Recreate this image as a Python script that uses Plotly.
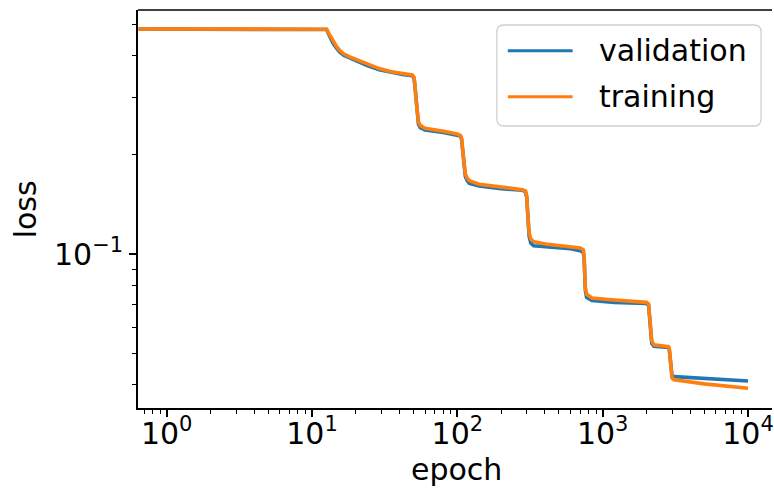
import plotly.graph_objects as go
import numpy as np

# ---- data ----
epochs = [0.64, 12.0, 12.6, 13.0, 13.5, 14.0, 14.7, 15.5, 16.5, 18.0, 20.0, 24.0, 29.0, 35.0, 42.0,
          49.0, 50.3, 51.0, 52.0, 53.0, 54.0, 55.5, 60.0, 80.0,
          100.0, 105.0, 107.0, 109.0, 111.0, 113.5, 117.0, 121.0, 141.0, 200.0,
          280.0, 294.0, 300.0, 306.0, 312.0, 320.0, 335.0, 404.0, 600.0,
          700.0, 735.0, 745.0, 752.0, 760.0, 775.0, 843.0, 1200.0,
          2000.0, 2070.0, 2100.0, 2130.0, 2175.0, 2250.0, 2832.0,
          2870.0, 2900.0, 2950.0, 3000.0, 3100.0, 5000.0, 10000.0]
val_loss = [0.483, 0.483, 0.481, 0.466, 0.450, 0.436, 0.423, 0.411, 0.402, 0.395, 0.388, 0.374, 0.363, 0.356, 0.351,
            0.348, 0.342, 0.326, 0.290, 0.260, 0.248, 0.242, 0.238, 0.234,
            0.2305, 0.2285, 0.223, 0.203, 0.184, 0.172, 0.167, 0.164, 0.161, 0.158,
            0.1562, 0.1548, 0.149, 0.128, 0.113, 0.108, 0.106, 0.1053, 0.1038,
            0.1024, 0.1012, 0.0975, 0.0865, 0.0775, 0.0738, 0.0722, 0.0713,
            0.0707, 0.0698, 0.0652, 0.0572, 0.0535, 0.0524, 0.0520,
            0.0514, 0.0485, 0.0445, 0.0426, 0.0424, 0.0418, 0.0411]
train_loss = [0.483, 0.483, 0.482, 0.470, 0.455, 0.441, 0.428, 0.416, 0.406, 0.398, 0.391, 0.377, 0.366, 0.358, 0.353,
              0.350, 0.345, 0.330, 0.295, 0.265, 0.252, 0.246, 0.241, 0.236,
              0.2315, 0.229, 0.224, 0.205, 0.187, 0.175, 0.170, 0.167, 0.163, 0.160,
              0.1568, 0.1555, 0.150, 0.130, 0.116, 0.111, 0.109, 0.1073, 0.1055,
              0.1043, 0.1030, 0.099, 0.088, 0.079, 0.0755, 0.0735, 0.0725,
              0.0713, 0.0705, 0.066, 0.058, 0.0545, 0.0530, 0.0523,
              0.0518, 0.0490, 0.0448, 0.0420, 0.0415, 0.0403, 0.0391]
x_tickvals = [1, 10, 100, 1000, 10000]
x_ticktext = ["10<sup>0</sup>", "10<sup>1</sup>", "10<sup>2</sup>", "10<sup>3</sup>", "10<sup>4</sup>"]
y_tickvals = [0.1]
y_ticktext = ["10<sup>\u22121</sup>"]
series_names = ["validation", "training"]
colors = ["#1f77b4", "#ff7f0e"]

# ---- layout geometry (pixels) ----
W, H = 774, 492
L, R, T, B = 138, 774, 10, 408
FONT = "DejaVu Sans"
FS = 30


def px(x):
    return (x - L) / (R - L)


def py(y):
    return (B - y) / (B - T)


x_minor = [m * 10 ** d for d in range(-1, 5) for m in range(2, 10)]
y_minor = [m * 10 ** d for d in (-2, -1) for m in range(2, 10)]

fig = go.Figure()
for name, ys, c in zip(series_names, [val_loss, train_loss], colors):
    fig.add_trace(go.Scatter(x=epochs, y=ys, mode="lines", name=name,
                             line=dict(color=c, width=3.6), showlegend=False))

axis_common = dict(showline=True, linecolor="black", linewidth=1.6,
                   ticks="outside", ticklen=7, tickwidth=1.6, tickcolor="black",
                   showgrid=False, zeroline=False, ticklabeloverflow="allow",
                   tickfont=dict(family=FONT, size=FS, color="black"))

fig.update_layout(
    width=W, height=H,
    margin=dict(l=L, r=W - R, t=T, b=H - B),
    paper_bgcolor="white", plot_bgcolor="white",
    xaxis=dict(type="log", range=[np.log10(0.635), 4.165],
               tickmode="array", tickvals=x_tickvals, ticktext=x_ticktext,
               ticklabelstandoff=-9,
               minor=dict(tickmode="array", tickvals=x_minor, ticks="outside",
                          ticklen=4, tickwidth=1.2, tickcolor="black"),
               **axis_common),
    yaxis=dict(type="log", range=[-1.468, -0.2584],
               tickmode="array", tickvals=y_tickvals, ticktext=y_ticktext,
               minor=dict(tickmode="array", tickvals=y_minor, ticks="outside",
                          ticklen=4, tickwidth=1.2, tickcolor="black"),
               **axis_common),
)

# top spine
fig.add_shape(type="line", xref="paper", yref="paper", x0=0, x1=1, y0=1, y1=1,
              line=dict(color="black", width=1.6))

# axis titles
fig.add_annotation(text="epoch", xref="paper", yref="paper", x=px(458), y=py(470),
                   showarrow=False, xanchor="center", yanchor="middle",
                   font=dict(family=FONT, size=FS, color="black"))
fig.add_annotation(text="loss", xref="paper", yref="paper", x=px(25), y=py(209),
                   showarrow=False, xanchor="center", yanchor="middle", textangle=-90,
                   font=dict(family=FONT, size=FS, color="black"))

# legend (matplotlib style)
bx0, bx1, by0, by1, r = 498, 763, 25, 126, 7
path = (f"M {px(bx0 + r)},{py(by0)} L {px(bx1 - r)},{py(by0)} "
        f"Q {px(bx1)},{py(by0)} {px(bx1)},{py(by0 + r)} "
        f"L {px(bx1)},{py(by1 - r)} Q {px(bx1)},{py(by1)} {px(bx1 - r)},{py(by1)} "
        f"L {px(bx0 + r)},{py(by1)} Q {px(bx0)},{py(by1)} {px(bx0)},{py(by1 - r)} "
        f"L {px(bx0)},{py(by0 + r)} Q {px(bx0)},{py(by0)} {px(bx0 + r)},{py(by0)} Z")
fig.add_shape(type="path", xref="paper", yref="paper", path=path,
              fillcolor="rgba(255,255,255,0.8)", line=dict(color="#d0d0d0", width=1.3))
for i, (name, c) in enumerate(zip(series_names, colors)):
    yc = 50.7 + i * 46
    fig.add_shape(type="line", xref="paper", yref="paper",
                  x0=px(509), x1=px(574), y0=py(yc), y1=py(yc),
                  line=dict(color=c, width=3))
    fig.add_annotation(text=name, xref="paper", yref="paper", x=px(598), y=py(yc),
                       showarrow=False, xanchor="left", yanchor="middle",
                       font=dict(family=FONT, size=FS, color="black"))

fig.write_html("out.html")
